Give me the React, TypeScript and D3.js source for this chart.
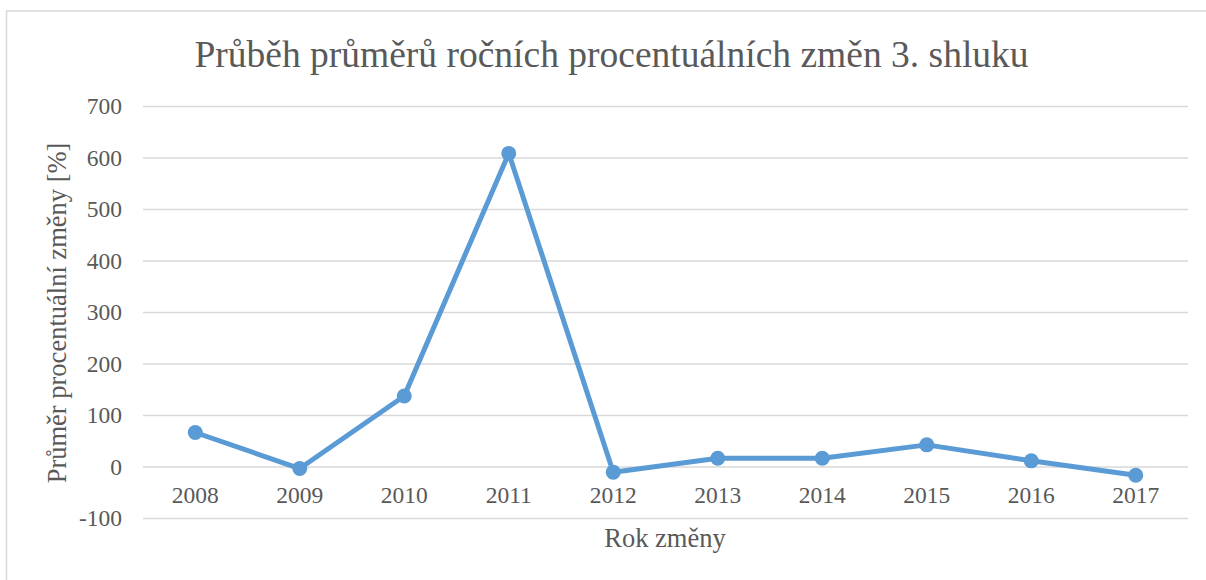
import React, { useEffect, useRef } from 'react';
import * as d3 from 'd3';

// Průměr ročních procentuálních změn, 3. shluk
const years = ['2008', '2009', '2010', '2011', '2012', '2013', '2014', '2015', '2016', '2017'];
const avgChange = [66, -4, 137, 608, -11, 16, 16, 42, 11, -17];
const yTicks = [-100, 0, 100, 200, 300, 400, 500, 600, 700];

const title = 'Průběh průměrů ročních procentuálních změn 3. shluku';
const xTitle = 'Rok změny';
const yTitle = 'Průměr procentuální změny [%]';

const W = 1206;
const H = 580;
const FONT = '"Liberation Serif", "Times New Roman", serif';
const TEXT = '#595959';
const GRID = '#d9d9d9';
const LINE = '#5b9bd5';

const App = () => {
    const svgRef = useRef<SVGSVGElement>(null);

    useEffect(() => {
        const svg = d3.select(svgRef.current);
        svg.selectAll('*').remove();

        const plot = { left: 143, right: 1188, top: 106, bottom: 518 };

        // chart frame (only left + top edges visible in the crop)
        svg.append('rect')
            .attr('x', 6.5)
            .attr('y', 11)
            .attr('width', W + 20)
            .attr('height', H + 20)
            .attr('fill', 'white')
            .attr('stroke', '#d9d9d9')
            .attr('stroke-width', 1.5);

        const x = d3.scaleBand()
            .domain(years)
            .range([plot.left, plot.right]);

        const y = d3.scaleLinear()
            .domain([-100, 700])
            .range([plot.bottom, plot.top]);

        // grid lines
        svg.append('g')
            .attr('transform', `translate(${plot.left},0)`)
            .call(d3.axisLeft(y).tickValues(yTicks).tickSize(-(plot.right - plot.left)).tickFormat(() => ''))
            .call(g => g.select('.domain').remove())
            .call(g => g.selectAll('line').attr('stroke', GRID).attr('stroke-width', 1.5));

        // y tick labels
        svg.append('g')
            .selectAll('text')
            .data(yTicks)
            .enter()
            .append('text')
            .attr('x', 122)
            .attr('y', d => y(d))
            .attr('dy', '0.35em')
            .attr('text-anchor', 'end')
            .attr('font-family', FONT)
            .attr('font-size', 23.5)
            .attr('fill', TEXT)
            .text(d => d);

        // x tick labels (sit just under the zero line)
        svg.append('g')
            .selectAll('text')
            .data(years)
            .enter()
            .append('text')
            .attr('x', d => (x(d) as number) + x.bandwidth() / 2)
            .attr('y', 503)
            .attr('text-anchor', 'middle')
            .attr('font-family', FONT)
            .attr('font-size', 23.5)
            .attr('fill', TEXT)
            .text(d => d);

        const pts = years.map((yr, i) => ({ yr, v: avgChange[i] }));

        const line = d3.line<{ yr: string; v: number }>()
            .x(d => (x(d.yr) as number) + x.bandwidth() / 2)
            .y(d => y(d.v));

        svg.append('path')
            .datum(pts)
            .attr('fill', 'none')
            .attr('stroke', LINE)
            .attr('stroke-width', 5)
            .attr('stroke-linejoin', 'round')
            .attr('d', line);

        svg.append('g')
            .selectAll('circle')
            .data(pts)
            .enter()
            .append('circle')
            .attr('cx', d => (x(d.yr) as number) + x.bandwidth() / 2)
            .attr('cy', d => y(d.v))
            .attr('r', 7.5)
            .attr('fill', LINE);

        // titles
        svg.append('text')
            .attr('x', 611.5)
            .attr('y', 67)
            .attr('text-anchor', 'middle')
            .attr('font-family', FONT)
            .attr('font-size', 37.5)
            .attr('fill', TEXT)
            .text(title);

        svg.append('text')
            .attr('x', 665)
            .attr('y', 547)
            .attr('text-anchor', 'middle')
            .attr('font-family', FONT)
            .attr('font-size', 26.5)
            .attr('fill', TEXT)
            .text(xTitle);

        svg.append('text')
            .attr('transform', `translate(66,313) rotate(-90)`)
            .attr('text-anchor', 'middle')
            .attr('font-family', FONT)
            .attr('font-size', 26.5)
            .attr('fill', TEXT)
            .text(yTitle);
    }, []);

    return (
        <svg
            ref={svgRef}
            width={W}
            height={H}
            style={{ position: 'absolute', left: 0, top: 0, background: 'white' }}
        />
    );
};

export default App;
